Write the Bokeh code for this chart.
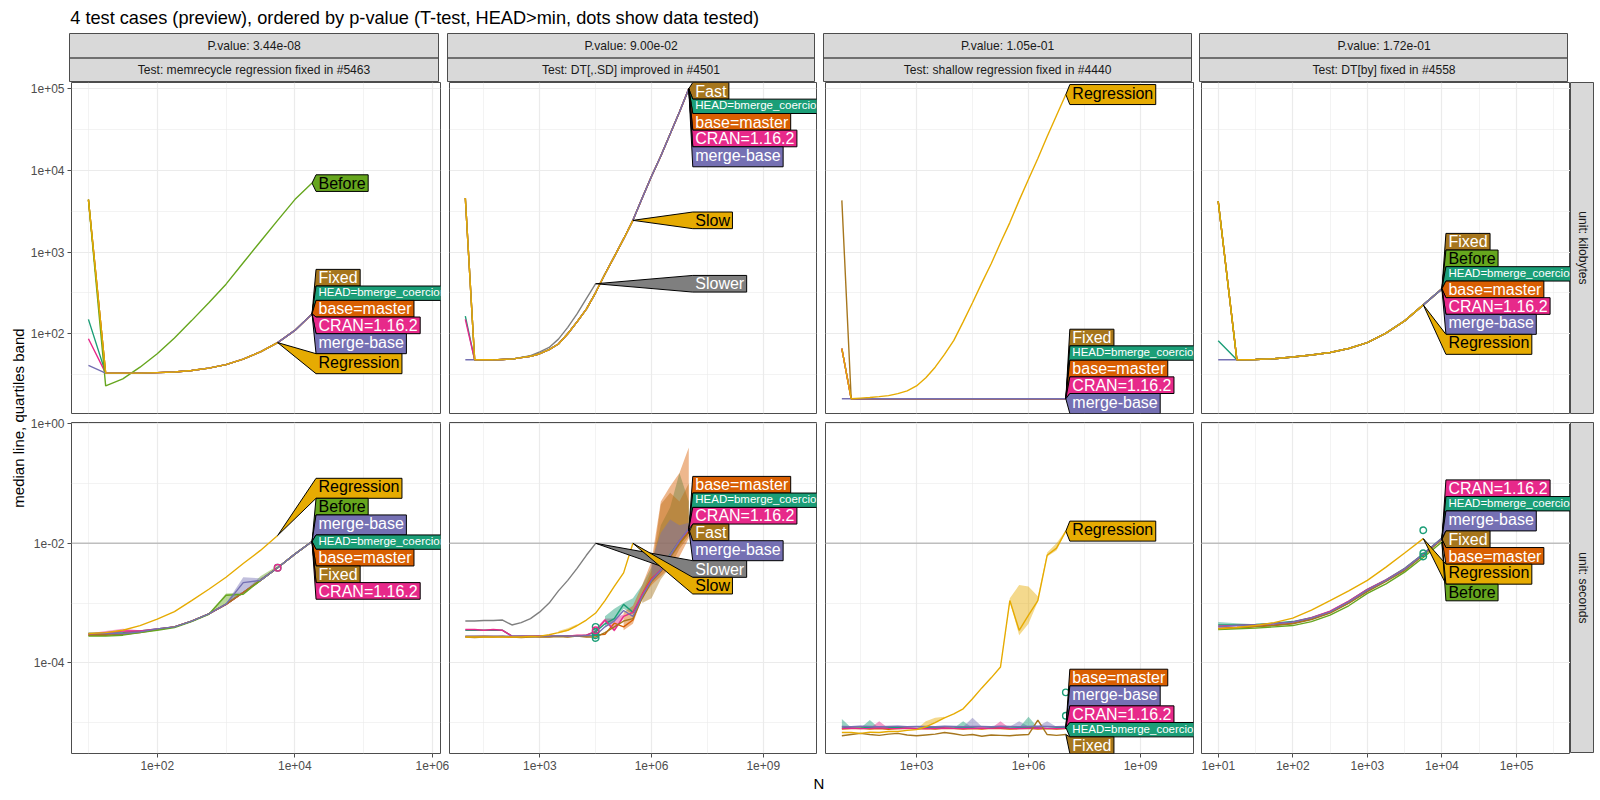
import math
from bokeh.plotting import figure
from bokeh.layouts import column, row
from bokeh.models import FixedTicker, CustomJSTickFormatter, Range1d, Grid, Span
from bokeh.core.properties import value
from bokeh.embed import file_html
from bokeh.resources import INLINE

FONT = "Liberation Sans"

# ----------------------------------------------------------------- texts
TITLE = "4 test cases (preview), ordered by p-value (T-test, HEAD>min, dots show data tested)"
P_VALUES = ["3.44e-08", "9.00e-02", "1.05e-01", "1.72e-01"]
TESTS = ["memrecycle regression fixed in #5463", "DT[,.SD] improved in #4501",
         "shallow regression fixed in #4440", "DT[by] fixed in #4558"]
UNITS = ["kilobytes", "seconds"]
Y_LABEL = "median line, quartiles band"
X_LABEL = "N"

COLORS = {"HEAD=bmerge_coercion": "#1B9E77", "base=master": "#D95F02", "merge-base": "#7570B3",
          "CRAN=1.16.2": "#E7298A", "Before": "#66A61E", "Regression": "#E6AB02", "Slow": "#E6AB02",
          "Fixed": "#A6761D", "Fast": "#A6761D", "Slower": "#7F7F7F"}
DARK_TEXT = ["Before", "Regression", "Slow"]
DRAW_ORDER = ["HEAD=bmerge_coercion", "base=master", "CRAN=1.16.2", "Fixed", "Fast", "Before",
              "merge-base", "Slower", "Slow", "Regression"]

# ----------------------------------------------------------------- data
N_MEMRECYCLE = [10, 17.8, 31.6, 56.2, 100, 178, 316, 562, 1000, 1778, 3162, 5623, 10000, 17783]
N_SD = [10, 17.8, 31.6, 56.2, 100, 178, 316, 562, 1000, 1778, 3162, 5623, 10000, 17783, 31623,
        56234, 100000, 177828, 316228, 562341, 1000000, 1778279, 3162278, 5623413, 10000000]
N_SHALLOW = [10, 17.8, 31.6, 56.2, 100, 178, 316, 562, 1000, 1778, 3162, 5623, 10000, 17783, 31623,
             56234, 100000, 177828, 316228, 562341, 1000000, 1778279, 3162278, 5623413, 10000000]
N_BY = [10, 17.8, 31.6, 56.2, 100, 178, 316, 562, 1000, 1778, 3162, 5623, 10000]

# --- memrecycle
KB_MEMRECYCLE = {
    "Fixed":                [4400, 33, 33, 33, 33.5, 34, 35.5, 38, 42, 49, 60, 78, 110, 175],
    "HEAD=bmerge_coercion": [150, 33, 33, 33, 33.5, 34, 35.5, 38, 42, 49, 60, 78, 110, 175],
    "base=master":          [4400, 33, 33, 33, 33.5, 34, 35.5, 38, 42, 49, 60, 78, 110, 175],
    "CRAN=1.16.2":          [87, 33, 33, 33, 33.5, 34, 35.5, 38, 42, 49, 60, 78, 110, 175],
    "merge-base":           [41, 33, 33, 33, 33.5, 34, 35.5, 38, 42, 49, 60, 78, 110, 175],
    "Before":               [4400, 23, 28, 39, 57, 89, 145, 240, 405, 740, 1350, 2450, 4400, 7000],
    "Regression":           [4400, 33, 33, 33, 33.5, 34, 35.5, 38, 42, 49, 60, 78],
}
SEC_MEMRECYCLE = {
    "Fixed":                [2.9e-4, 2.9e-4, 3.0e-4, 3.2e-4, 3.6e-4, 4.0e-4, 5.0e-4, 6.6e-4, 9.5e-4, 1.5e-3, 2.4e-3, 3.9e-3, 6.6e-3, 1.07e-2],
    "HEAD=bmerge_coercion": [3.1e-4, 3.1e-4, 3.2e-4, 3.4e-4, 3.7e-4, 4.0e-4, 5.0e-4, 6.6e-4, 9.6e-4, 1.5e-3, 2.4e-3, 3.9e-3, 6.6e-3, 1.07e-2],
    "base=master":          [2.9e-4, 3.0e-4, 3.1e-4, 3.3e-4, 3.6e-4, 4.0e-4, 5.0e-4, 6.6e-4, 9.5e-4, 1.5e-3, 2.4e-3, 3.9e-3, 6.6e-3, 1.07e-2],
    "CRAN=1.16.2":          [3.0e-4, 3.2e-4, 3.4e-4, 3.4e-4, 3.7e-4, 4.0e-4, 5.0e-4, 6.6e-4, 9.5e-4, 1.5e-3, 2.4e-3, 3.9e-3, 6.6e-3, 1.07e-2],
    "merge-base":           [3.1e-4, 3.1e-4, 3.1e-4, 3.3e-4, 3.7e-4, 4.0e-4, 5.0e-4, 6.6e-4, 9.6e-4, 2.2e-3, 2.4e-3, 3.9e-3, 6.6e-3, 1.07e-2],
    "Before":               [2.8e-4, 2.8e-4, 2.9e-4, 3.2e-4, 3.5e-4, 3.9e-4, 4.9e-4, 6.5e-4, 1.35e-3, 1.4e-3, 2.4e-3, 3.9e-3, 6.6e-3, 1.07e-2],
    "Regression":           [3.1e-4, 3.2e-4, 3.5e-4, 4.2e-4, 5.4e-4, 7.2e-4, 1.1e-3, 1.7e-3, 2.7e-3, 4.6e-3, 7.6e-3, 1.35e-2],
}
BANDS_MEMRECYCLE = [  # (series, N, lower quartile, upper quartile)
    ("Before", [562, 1000, 1778, 3162, 5623], [6.5e-4, 9.5e-4, 1.45e-3, 2.4e-3, 3.9e-3], [6.7e-4, 1.45e-3, 1.5e-3, 2.8e-3, 4.2e-3]),
    ("merge-base", [1000, 1778, 3162, 5623], [9.6e-4, 1.5e-3, 2.4e-3, 3.9e-3], [9.8e-4, 2.7e-3, 2.6e-3, 4.0e-3]),
    ("CRAN=1.16.2", [10, 17.8, 31.6, 56.2], [3.0e-4, 3.1e-4, 3.2e-4, 3.3e-4], [3.1e-4, 3.4e-4, 3.7e-4, 3.5e-4]),
]
DOTS_MEMRECYCLE = [("HEAD=bmerge_coercion", [5623], [3.9e-3]), ("CRAN=1.16.2", [5623], [3.9e-3])]
ORDER_KB_MEMRECYCLE = ["Before", "Fixed", "HEAD=bmerge_coercion", "base=master", "CRAN=1.16.2", "merge-base", "Regression"]
ORDER_SEC_MEMRECYCLE = ["Regression", "Before", "merge-base", "HEAD=bmerge_coercion", "base=master", "Fixed", "CRAN=1.16.2"]

# --- DT[,.SD]
KB_SD = {
    "Fast":                 [4600, 48, 48, 48, 48.5, 49, 51, 53, 57, 64, 75, 100, 140, 200, 320, 540, 880, 1450, 2450, 4600, 8500, 15000, 28000, 52000, 100000],
    "HEAD=bmerge_coercion": [165, 48, 48, 48, 48.5, 49, 51, 53, 57, 64, 75, 100, 140, 200, 320, 540, 880, 1450, 2450, 4600, 8500, 15000, 28000, 52000, 100000],
    "base=master":          [4600, 48, 48, 48, 48.5, 49, 51, 53, 57, 64, 75, 100, 140, 200, 320, 540, 880, 1450, 2450, 4600, 8500, 15000, 28000, 52000, 100000],
    "CRAN=1.16.2":          [150, 48, 48, 48, 48.5, 49, 51, 53, 57, 64, 75, 100, 140, 200, 320, 540, 880, 1450, 2450, 4600, 8500, 15000, 28000, 52000, 100000],
    "merge-base":           [48, 48, 48, 48, 48.5, 49, 51, 53, 57, 64, 75, 100, 140, 200, 320, 540, 880, 1450, 2450, 4600, 8500, 15000, 28000, 52000, 100000],
    "Slow":                 [4600, 48, 48, 48, 48.5, 49, 51, 53, 57, 64, 75, 100, 140, 200, 320, 540, 880, 1450, 2450],
    "Slower":               [4600, 48, 48, 48, 48.5, 49, 51.5, 54, 60, 68, 86, 120, 175, 270, 410],
}
SEC_SD = {
    "Fast":                 [2.7e-4, 2.65e-4, 2.7e-4, 2.7e-4, 2.75e-4, 2.7e-4, 2.65e-4, 2.7e-4, 2.7e-4, 2.7e-4, 2.75e-4, 2.7e-4, 2.8e-4, 2.7e-4, 2.7e-4, 3.2e-4, 4.0e-4, 5.0e-4, 5.5e-4, 1.2e-3, 2.3e-3, 3.4e-3, 6.0e-3, 1.0e-2, 1.5e-2],
    "HEAD=bmerge_coercion": [3.5e-4, 3.5e-4, 3.5e-4, 3.5e-4, 3.5e-4, 2.8e-4, 2.8e-4, 2.75e-4, 2.8e-4, 2.8e-4, 2.8e-4, 2.85e-4, 2.8e-4, 2.9e-4, 3.3e-4, 4.5e-4, 5.5e-4, 9.5e-4, 7.0e-4, 1.3e-3, 2.4e-3, 3.6e-3, 6.5e-3, 1.1e-2, 1.7e-2],
    "base=master":          [2.75e-4, 2.75e-4, 2.8e-4, 2.75e-4, 2.75e-4, 2.7e-4, 2.75e-4, 2.8e-4, 2.75e-4, 2.75e-4, 2.8e-4, 2.75e-4, 2.8e-4, 2.8e-4, 2.9e-4, 3.0e-4, 4.6e-4, 4.0e-4, 5.2e-4, 1.4e-3, 2.6e-3, 3.4e-3, 6.0e-3, 1.0e-2, 1.6e-2],
    "CRAN=1.16.2":          [3.6e-4, 3.6e-4, 3.5e-4, 3.6e-4, 3.5e-4, 2.8e-4, 2.8e-4, 2.8e-4, 2.85e-4, 2.8e-4, 2.8e-4, 2.8e-4, 2.9e-4, 2.9e-4, 3.4e-4, 5.2e-4, 3.5e-4, 6.0e-4, 7.0e-4, 1.4e-3, 2.5e-3, 3.6e-3, 6.3e-3, 1.1e-2, 1.7e-2],
    "merge-base":           [2.8e-4, 2.8e-4, 2.8e-4, 2.8e-4, 2.8e-4, 2.8e-4, 2.8e-4, 2.8e-4, 2.8e-4, 2.8e-4, 2.85e-4, 2.8e-4, 2.8e-4, 2.85e-4, 2.9e-4, 4.0e-4, 5.0e-4, 7.5e-4, 6.0e-4, 1.3e-3, 2.4e-3, 3.5e-3, 6.2e-3, 1.1e-2, 1.75e-2],
    "Slow":                 [2.7e-4, 2.7e-4, 2.7e-4, 2.7e-4, 2.7e-4, 2.7e-4, 2.7e-4, 2.75e-4, 2.8e-4, 2.95e-4, 3.2e-4, 3.5e-4, 4.2e-4, 5.2e-4, 6.8e-4, 1.1e-3, 1.9e-3, 3.2e-3, 1.0e-2],
    "Slower":               [5.0e-4, 5.0e-4, 5.1e-4, 5.1e-4, 5.2e-4, 4.3e-4, 4.7e-4, 5.5e-4, 7.1e-4, 1.0e-3, 1.6e-3, 2.4e-3, 3.8e-3, 6.3e-3, 1.0e-2],
}
BANDS_SD = [
    ("Slow", [3162, 5623, 10000], [3.1e-4, 3.4e-4, 4.0e-4], [3.4e-4, 3.8e-4, 4.4e-4]),
    ("CRAN=1.16.2", [31623, 56234, 100000, 177828], [3.2e-4, 4.8e-4, 3.3e-4, 5.5e-4], [3.8e-4, 5.5e-4, 5.5e-4, 6.5e-4]),
    ("HEAD=bmerge_coercion", [56234, 100000, 177828, 316228, 562341, 1000000, 1778279, 3162278, 5623413, 10000000],
     [4.0e-4, 5.0e-4, 8.0e-4, 6.5e-4, 1.2e-3, 2.2e-3, 3.2e-3, 5.5e-3, 9.0e-3, 1.5e-2],
     [6.0e-4, 8.0e-4, 1.0e-3, 1.2e-3, 2.0e-3, 4.0e-3, 2.0e-2, 4.0e-2, 0.15, 0.05]),
    ("Fast", [562341, 1000000, 1778279, 3162278, 5623413, 10000000],
     [1.0e-3, 1.2e-3, 2.5e-3, 4.0e-3, 8.0e-3, 1.3e-2], [1.5e-3, 3.5e-3, 4.5e-2, 7.0e-2, 5.0e-2, 0.1]),
    ("base=master", [177828, 316228, 562341, 1000000, 1778279, 3162278, 5623413, 10000000],
     [3.5e-4, 4.5e-4, 1.2e-3, 2.0e-3, 2.8e-3, 4.0e-3, 6.0e-3, 1.2e-2], [7.0e-4, 9.0e-4, 2.0e-3, 5.0e-3, 5.0e-2, 9.0e-2, 0.15, 0.4]),
    ("merge-base", [1000000, 1778279, 3162278, 5623413, 10000000],
     [2.2e-3, 3.2e-3, 5.5e-3, 9.5e-3, 1.6e-2], [5.0e-3, 1.5e-2, 2.5e-2, 2.0e-2, 2.2e-2]),
]
DOTS_SD = [("HEAD=bmerge_coercion", [31623, 31623, 31623, 31623], [2.6e-4, 2.9e-4, 3.3e-4, 4.0e-4]),
           ("CRAN=1.16.2", [31623], [3.5e-4])]
ORDER_KB_SD = ["Fast", "HEAD=bmerge_coercion", "base=master", "CRAN=1.16.2", "merge-base", "Slow", "Slower"]
ORDER_SEC_SD = ["base=master", "HEAD=bmerge_coercion", "CRAN=1.16.2", "Fast", "merge-base", "Slower", "Slow"]

# --- shallow
KB_SHALLOW = {
    "Fixed":                [4300, 16, 16, 16, 16, 16, 16, 16, 16, 16, 16, 16, 16, 16, 16, 16, 16, 16, 16, 16, 16, 16, 16, 16, 16],
    "HEAD=bmerge_coercion": [66, 16, 16, 16, 16, 16, 16, 16, 16, 16, 16, 16, 16, 16, 16, 16, 16, 16, 16, 16, 16, 16, 16, 16, 16],
    "base=master":          [66, 16, 16, 16, 16, 16, 16, 16, 16, 16, 16, 16, 16, 16, 16, 16, 16, 16, 16, 16, 16, 16, 16, 16, 16],
    "CRAN=1.16.2":          [66, 16, 16, 16, 16, 16, 16, 16, 16, 16, 16, 16, 16, 16, 16, 16, 16, 16, 16, 16, 16, 16, 16, 16, 16],
    "merge-base":           [16, 16, 16, 16, 16, 16, 16, 16, 16, 16, 16, 16, 16, 16, 16, 16, 16, 16, 16, 16, 16, 16, 16, 16, 16],
    "Regression":           [66, 16, 16.3, 16.6, 17, 17.5, 18.5, 20, 23, 29, 39, 56, 83, 140, 240, 420, 720, 1300, 2300, 4300, 7800, 14000, 26000, 47000, 85000],
}
SEC_SHALLOW = {
    "Fixed":                [6.0e-6, 6.3e-6, 6.6e-6, 6.3e-6, 6.1e-6, 6.4e-6, 6.6e-6, 6.2e-6, 6.0e-6, 6.2e-6, 6.4e-6, 6.8e-6, 6.5e-6, 6.1e-6, 6.3e-6, 5.9e-6, 6.2e-6, 6.1e-6, 6.0e-6, 6.2e-6, 6.3e-6, 1.1e-5, 6.3e-6, 6.1e-6, 6.3e-6],
    "HEAD=bmerge_coercion": [8.4e-6, 8.2e-6, 8.1e-6, 8.3e-6, 8.0e-6, 8.2e-6, 8.3e-6, 8.1e-6, 8.0e-6, 8.2e-6, 8.4e-6, 8.2e-6, 8.1e-6, 8.3e-6, 8.2e-6, 8.0e-6, 8.2e-6, 8.3e-6, 8.1e-6, 8.2e-6, 8.4e-6, 8.2e-6, 8.0e-6, 8.2e-6, 8.3e-6],
    "base=master":          [7.8e-6, 7.9e-6, 8.0e-6, 7.8e-6, 7.9e-6, 7.7e-6, 7.9e-6, 8.0e-6, 7.8e-6, 7.9e-6, 7.8e-6, 8.0e-6, 7.9e-6, 7.8e-6, 7.9e-6, 7.8e-6, 8.0e-6, 7.9e-6, 7.8e-6, 7.9e-6, 8.0e-6, 7.8e-6, 7.9e-6, 7.8e-6, 7.9e-6],
    "CRAN=1.16.2":          [8.0e-6, 8.1e-6, 7.9e-6, 8.0e-6, 8.2e-6, 8.0e-6, 7.9e-6, 8.1e-6, 8.0e-6, 7.9e-6, 8.0e-6, 8.1e-6, 8.0e-6, 7.9e-6, 8.0e-6, 8.1e-6, 8.0e-6, 8.2e-6, 8.0e-6, 7.9e-6, 8.0e-6, 8.1e-6, 8.0e-6, 7.9e-6, 8.0e-6],
    "merge-base":           [8.6e-6, 8.5e-6, 8.7e-6, 8.6e-6, 8.5e-6, 8.6e-6, 8.7e-6, 8.5e-6, 8.6e-6, 8.6e-6, 8.5e-6, 8.7e-6, 8.6e-6, 8.5e-6, 8.6e-6, 8.6e-6, 8.5e-6, 8.7e-6, 8.6e-6, 8.5e-6, 8.6e-6, 8.7e-6, 8.6e-6, 8.5e-6, 8.6e-6],
    "Regression":           [6.8e-6, 6.8e-6, 6.6e-6, 6.9e-6, 6.8e-6, 7.1e-6, 7.1e-6, 7.4e-6, 7.6e-6, 8.5e-6, 1.0e-5, 1.2e-5, 1.4e-5, 1.7e-5, 2.5e-5, 3.8e-5, 5.6e-5, 8.5e-5, 1.1e-3, 3.5e-4, 6.3e-4, 1.1e-3, 6.3e-3, 8.3e-3, 1.6e-2],
}
BANDS_SHALLOW = [
    ("Regression", [1000, 1778, 3162, 5623], [7.6e-6, 8.5e-6, 1.0e-5, 1.2e-5], [7.8e-6, 1.05e-5, 1.2e-5, 1.25e-5]),
    ("Regression", [177828, 316228, 562341, 1000000, 1778279, 3162278, 5623413, 10000000],
     [8.5e-5, 1.05e-3, 2.9e-4, 4.5e-4, 1.05e-3, 6.0e-3, 7.6e-3, 1.55e-2],
     [8.7e-5, 1.2e-3, 2.0e-3, 1.9e-3, 1.3e-3, 7.0e-3, 1.0e-2, 1.65e-2]),
]
SPIKES_SHALLOW = [  # (series, N, upper quartile) isolated noisy points
    ("HEAD=bmerge_coercion", 10, 1.15e-5), ("HEAD=bmerge_coercion", 56.2, 1.1e-5), ("CRAN=1.16.2", 100, 1.05e-5),
    ("HEAD=bmerge_coercion", 17783, 1.05e-5), ("merge-base", 31623, 1.2e-5), ("CRAN=1.16.2", 177828, 1.05e-5),
    ("merge-base", 562341, 1.05e-5), ("HEAD=bmerge_coercion", 1000000, 1.25e-5), ("merge-base", 3162278, 1.05e-5),
]
DOTS_SHALLOW = [("HEAD=bmerge_coercion", [10000000, 10000000], [3.2e-5, 1.3e-5])]
ORDER_KB_SHALLOW = ["Regression", "Fixed", "HEAD=bmerge_coercion", "base=master", "CRAN=1.16.2", "merge-base"]
ORDER_SEC_SHALLOW = ["Regression", "base=master", "merge-base", "CRAN=1.16.2", "HEAD=bmerge_coercion", "Fixed"]

# --- DT[by]
KB_BY = {
    "Fixed":                [4200, 48, 48.5, 49.5, 52, 55, 59, 66, 78, 102, 144, 226, 355],
    "Before":               [4200, 48, 48.5, 49.5, 52, 55, 59, 66, 78, 102, 144, 226, 355],
    "HEAD=bmerge_coercion": [82, 48, 48.5, 49.5, 52, 55, 59, 66, 78, 102, 144, 226, 355],
    "base=master":          [4200, 48, 48.5, 49.5, 52, 55, 59, 66, 78, 102, 144, 226, 355],
    "CRAN=1.16.2":          [4200, 48, 48.5, 49.5, 52, 55, 59, 66, 78, 102, 144, 226, 355],
    "merge-base":           [48, 48, 48.5, 49.5, 52, 55, 59, 66, 78, 102, 144, 226, 355],
    "Regression":           [4200, 48, 48.5, 49.5, 52, 55, 59, 66, 78, 102, 144, 226],
}
SEC_BY = {
    "merge-base":           [4.0e-4, 4.2e-4, 4.3e-4, 4.5e-4, 4.8e-4, 5.6e-4, 7.1e-4, 1.05e-3, 1.65e-3, 2.4e-3, 3.7e-3, 6.6e-3, 1.2e-2],
    "HEAD=bmerge_coercion": [4.3e-4, 4.3e-4, 4.4e-4, 4.6e-4, 4.9e-4, 5.7e-4, 7.2e-4, 1.07e-3, 1.7e-3, 2.45e-3, 3.8e-3, 6.7e-3, 1.22e-2],
    "CRAN=1.16.2":          [4.1e-4, 4.2e-4, 4.3e-4, 4.5e-4, 4.8e-4, 5.7e-4, 7.3e-4, 1.08e-3, 1.7e-3, 2.45e-3, 3.75e-3, 6.6e-3, 1.2e-2],
    "base=master":          [3.8e-4, 3.9e-4, 4.1e-4, 4.3e-4, 4.6e-4, 5.4e-4, 6.9e-4, 1.0e-3, 1.6e-3, 2.35e-3, 3.6e-3, 6.4e-3, 1.18e-2],
    "Fixed":                [3.7e-4, 3.8e-4, 4.0e-4, 4.2e-4, 4.5e-4, 5.3e-4, 6.8e-4, 1.0e-3, 1.55e-3, 2.3e-3, 3.5e-3, 6.3e-3, 1.15e-2],
    "Before":               [3.6e-4, 3.7e-4, 3.8e-4, 4.0e-4, 4.2e-4, 4.9e-4, 6.3e-4, 9.0e-4, 1.45e-3, 2.1e-3, 3.3e-3, 5.8e-3, 1.05e-2],
    "Regression":           [3.7e-4, 3.9e-4, 4.2e-4, 4.7e-4, 5.6e-4, 7.6e-4, 1.1e-3, 1.6e-3, 2.4e-3, 4.0e-3, 6.9e-3, 1.2e-2],
}
BANDS_BY = [("HEAD=bmerge_coercion", [10, 17.8, 31.6], [4.3e-4, 4.3e-4, 4.4e-4], [4.8e-4, 4.6e-4, 4.4e-4])]
DOTS_BY = [("HEAD=bmerge_coercion", [5623, 5623, 5623], [1.65e-2, 6.8e-3, 6.0e-3])]
ORDER_KB_BY = ["Fixed", "Before", "HEAD=bmerge_coercion", "base=master", "CRAN=1.16.2", "merge-base", "Regression"]
ORDER_SEC_BY = ["CRAN=1.16.2", "HEAD=bmerge_coercion", "merge-base", "Fixed", "base=master", "Regression", "Before"]

COLS = [
    dict(N=N_MEMRECYCLE, kb=KB_MEMRECYCLE, sec=SEC_MEMRECYCLE, bands=BANDS_MEMRECYCLE, spikes=[],
         dots=DOTS_MEMRECYCLE, order=(ORDER_KB_MEMRECYCLE, ORDER_SEC_MEMRECYCLE)),
    dict(N=N_SD, kb=KB_SD, sec=SEC_SD, bands=BANDS_SD, spikes=[], dots=DOTS_SD, order=(ORDER_KB_SD, ORDER_SEC_SD)),
    dict(N=N_SHALLOW, kb=KB_SHALLOW, sec=SEC_SHALLOW, bands=BANDS_SHALLOW, spikes=SPIKES_SHALLOW,
         dots=DOTS_SHALLOW, order=(ORDER_KB_SHALLOW, ORDER_SEC_SHALLOW)),
    dict(N=N_BY, kb=KB_BY, sec=SEC_BY, bands=BANDS_BY, spikes=[], dots=DOTS_BY, order=(ORDER_KB_BY, ORDER_SEC_BY)),
]

# ----------------------------------------------------------------- scales / layout
XLIM = [(0.754, 6.117), (0.575, 10.43), (0.562, 10.42), (0.776, 5.724)]   # log10 limits
YLIM = [(1.024, 5.077), (-5.518, 0.022)]
XMAJ = [[1e2, 1e4, 1e6], [1e3, 1e6, 1e9], [1e3, 1e6, 1e9], [1e1, 1e2, 1e3, 1e4, 1e5]]
XMIN = [[1e1, 1e3, 1e5], [10**1.5, 10**4.5, 10**7.5], [10**1.5, 10**4.5, 10**7.5],
        [10**1.5, 10**2.5, 10**3.5, 10**4.5, 10**5.5]]
YMAJ = [[1e2, 1e3, 1e4, 1e5], [1e-4, 1e-2, 1e0]]
YMIN = [[10**1.5, 10**2.5, 10**3.5, 10**4.5], [1e-5, 1e-3, 1e-1]]
FRAME_W = [369, 367, 368, 369]
FRAME_H = 331
GAP_L = [42, 0, 0, 0]
GAP_R = [9, 9, 8, 0]
GAP_TOP_ROW_BELOW = 2
GAP_BOTTOM_ROW_ABOVE = 7
STRIP_H = 49
SIDE_W = 24
YLAB_W = 27
TITLE_H = 33
AXIS_H = 21
XLAB_H = 19
BORDER = "#4D4D4D"
TITLE_FS = 18.2
TICK_FS = "12px"
STRIP_FS = "12.1px"
AXIS_TITLE_FS = "15px"

HELV = {' ': 278, '-': 333, '.': 278, '=': 584, '_': 556, 'A': 667, 'B': 667, 'C': 722, 'D': 722,
        'E': 667, 'F': 611, 'H': 722, 'N': 722, 'R': 722, 'S': 667, 'T': 611, 'a': 556, 'b': 556, 'c': 500,
        'd': 556, 'e': 556, 'f': 278, 'g': 556, 'h': 556, 'i': 222, 'l': 222, 'm': 833, 'n': 556,
        'o': 556, 'p': 556, 'r': 333, 's': 500, 't': 278, 'u': 556, 'w': 722, 'x': 500, 'v': 500, 'y': 500,
        '(': 333, ')': 333, ',': 278, '>': 584, '4': 556}

TICK_JS = """
var s = tick.toExponential(0);
var parts = s.split('e');
var e = parseInt(parts[1]);
var a = Math.abs(e);
return parts[0] + 'e' + (e < 0 ? '-' : '+') + (a < 10 ? '0' + a : '' + a);
"""


def text_width(s, fs):
    return sum(HELV.get(c, 556) for c in s) * fs / 1000.0


def label_metrics(s):
    fs = 11.5 if s.startswith("HEAD") else 16.0
    w = text_width(s, fs)
    desc = 0.21 * fs if any(c in "gjpqy_," for c in s) else 0.0
    pad_y = 0.16 * fs
    h = 0.72 * fs + desc + 2 * pad_y
    return fs, w, h, desc, pad_y


def stack(desired, heights, fh):
    """least-squares placement of ordered, non overlapping boxes (pool adjacent violators)"""
    H = [0.0]
    for h in heights:
        H.append(H[-1] + h)
    t = [desired[i] - heights[i] / 2 - H[i] for i in range(len(desired))]
    blocks = []
    for v in t:
        blocks.append([v, 1])
        while len(blocks) > 1 and blocks[-2][0] / blocks[-2][1] > blocks[-1][0] / blocks[-1][1]:
            s, c = blocks.pop()
            blocks[-1][0] += s
            blocks[-1][1] += c
    u = []
    for s, c in blocks:
        u += [s / c] * c
    u = [min(max(x, 0.0), fh - H[-1]) for x in u]
    return [u[i] + H[i] for i in range(len(u))]


def blank(w, h):
    p = figure(x_range=Range1d(0, w), y_range=Range1d(0, h), frame_width=w, frame_height=h,
               x_axis_location=None, y_axis_location=None, toolbar_location=None,
               output_backend="svg", title=None, min_border_left=0, min_border_right=0,
               min_border_top=0, min_border_bottom=0, outline_line_color=None)
    p.grid.visible = False
    return p


def make_panel(ci, ri):
    d = COLS[ci]
    xlo, xhi = XLIM[ci]
    ylo, yhi = YLIM[ri]
    fw, fh = FRAME_W[ci], FRAME_H
    pxx = fw / (xhi - xlo)
    pxy = fh / (yhi - ylo)
    p = figure(x_axis_type="log", y_axis_type="log",
               x_range=Range1d(10 ** xlo, 10 ** xhi), y_range=Range1d(10 ** ylo, 10 ** yhi),
               frame_width=fw, frame_height=fh,
               x_axis_location="below" if ri == 1 else None,
               y_axis_location="left" if ci == 0 else None,
               toolbar_location=None, output_backend="svg", title=None,
               min_border_left=GAP_L[ci], min_border_right=GAP_R[ci],
               min_border_top=GAP_BOTTOM_ROW_ABOVE if ri == 1 else 0,
               min_border_bottom=GAP_TOP_ROW_BELOW if ri == 0 else 0)
    p.outline_line_color = BORDER
    p.outline_line_width = 1
    p.center = [c for c in p.center if not isinstance(c, Grid)]
    p.add_layout(Grid(dimension=0, ticker=FixedTicker(ticks=XMAJ[ci], minor_ticks=XMIN[ci]),
                      grid_line_color="#EBEBEB", grid_line_width=1.2,
                      minor_grid_line_color="#EBEBEB", minor_grid_line_width=0.6))
    p.add_layout(Grid(dimension=1, ticker=FixedTicker(ticks=YMAJ[ri], minor_ticks=YMIN[ri]),
                      grid_line_color="#EBEBEB", grid_line_width=1.2,
                      minor_grid_line_color="#EBEBEB", minor_grid_line_width=0.6))
    for ax in list(p.xaxis) + list(p.yaxis):
        ax.formatter = CustomJSTickFormatter(code=TICK_JS)
        ax.axis_line_color = None
        ax.major_tick_line_color = BORDER
        ax.major_tick_out = 4
        ax.major_tick_in = 0
        ax.minor_tick_line_color = None
        ax.major_label_standoff = 3
        ax.major_label_text_font = FONT
        ax.major_label_text_font_size = TICK_FS
        ax.major_label_text_color = "#4D4D4D"
    for ax in p.xaxis:
        ax.ticker = FixedTicker(ticks=XMAJ[ci])
    for ax in p.yaxis:
        ax.ticker = FixedTicker(ticks=YMAJ[ri])

    N = d["N"]
    med = d["kb"] if ri == 0 else d["sec"]
    if ri == 1:
        p.add_layout(Span(location=1e-2, dimension="width", line_color="#BEBEBE", line_width=1.6,
                          level="underlay"))
        for s, ns, lo, hi in d["bands"]:
            p.varea(x=ns, y1=lo, y2=hi, fill_color=COLORS[s], fill_alpha=0.45)
        for s, n, hi in d["spikes"]:
            i = N.index(n)
            a, b = max(i - 1, 0), min(i + 2, len(med[s]))
            m = med[s][a:b]
            up = [hi if k == i else med[s][k] for k in range(a, b)]
            p.varea(x=N[a:b], y1=m, y2=up, fill_color=COLORS[s], fill_alpha=0.45)
    for s in DRAW_ORDER:
        if s in med:
            vals = med[s]
            p.line(N[:len(vals)], vals, line_color=COLORS[s], line_width=1.4)
    if ri == 1:
        for s, ns, vs in d["dots"]:
            p.scatter(ns, vs, marker="circle", size=6.5, fill_color=None, line_color=COLORS[s],
                      line_width=1.4)

    # direct labels (polygon boxes pointing to the last point of each line)
    def px2x(v):
        return 10 ** (xlo + v / pxx)

    def px2y(v):
        return 10 ** (yhi - v / pxy)

    order = d["order"][ri]
    tips = []
    for s in order:
        vals = med[s]
        n = N[len(vals) - 1]
        tips.append(((math.log10(n) - xlo) * pxx, (yhi - math.log10(vals[-1])) * pxy))
    mets = [label_metrics(s) for s in order]
    tops = stack([t[1] for t in tips], [m[2] for m in mets], fh)
    L = max(t[0] for t in tips) + 4
    padx = 2.5
    for s, (tx, ty), (fs, w, h, desc, pad_y), top in zip(order, tips, mets, tops):
        R = L + w + 2 * padx
        bot = top + h
        xs = [px2x(v) for v in (tx, L, R, R, L)]
        ys = [px2y(v) for v in (ty, top, top, bot, bot)]
        p.patch(xs, ys, fill_color=COLORS[s], line_color="black", line_width=1)
        baseline = bot - pad_y - desc
        p.text(x=[px2x(L + padx)], y=[px2y(baseline - 0.3465 * fs)], text=[s],
               text_font=value(FONT), text_font_size=value(f"{fs}px"),
               text_color="black" if s in DARK_TEXT else "white",
               text_align="left", text_baseline="middle")
    return p


def make_strip(ci):
    p = figure(x_range=Range1d(0, 1), y_range=Range1d(0, 2), frame_width=FRAME_W[ci], frame_height=STRIP_H,
               x_axis_location=None, y_axis_location=None, toolbar_location=None, output_backend="svg",
               title=None, min_border_left=GAP_L[ci], min_border_right=GAP_R[ci], min_border_top=0,
               min_border_bottom=0)
    p.grid.visible = False
    p.background_fill_color = "#D9D9D9"
    p.outline_line_color = BORDER
    p.outline_line_width = 1
    p.add_layout(Span(location=1, dimension="width", line_color=BORDER, line_width=1.5))
    p.text(x=[0.5, 0.5], y=[1.5, 0.5], text=[f"P.value: {P_VALUES[ci]}", f"Test: {TESTS[ci]}"],
           text_align="center", text_baseline="middle", text_font=value(FONT),
           text_font_size=value(STRIP_FS), text_color="#1A1A1A")
    return p


def make_side(ri):
    p = figure(x_range=Range1d(0, 1), y_range=Range1d(0, 1), frame_width=SIDE_W, frame_height=FRAME_H,
               x_axis_location=None, y_axis_location=None, toolbar_location=None, output_backend="svg",
               title=None, min_border_left=0, min_border_right=0,
               min_border_top=GAP_BOTTOM_ROW_ABOVE if ri == 1 else 0,
               min_border_bottom=GAP_TOP_ROW_BELOW if ri == 0 else 0)
    p.grid.visible = False
    p.background_fill_color = "#D9D9D9"
    p.outline_line_color = BORDER
    p.text(x=[0.5], y=[0.5], text=[f"unit: {UNITS[ri]}"], angle=-math.pi / 2, text_align="center",
           text_baseline="middle", text_font=value(FONT), text_font_size=value(STRIP_FS),
           text_color="#1A1A1A")
    return p


strip_row = row(*[make_strip(ci) for ci in range(4)])
top_row = row(*[make_panel(ci, 0) for ci in range(4)], make_side(0))
bottom_row = row(*[make_panel(ci, 1) for ci in range(4)], make_side(1))
grid_col = column(strip_row, top_row, bottom_row)

TOTAL_W = YLAB_W + sum(GAP_L) + sum(FRAME_W) + sum(GAP_R) + SIDE_W
GRID_H = STRIP_H + 2 * FRAME_H + GAP_TOP_ROW_BELOW + GAP_BOTTOM_ROW_ABOVE + AXIS_H
PANELS_LEFT = YLAB_W + GAP_L[0]
PANELS_W = sum(FRAME_W) + sum(GAP_R) - GAP_R[3]

title_fig = blank(TOTAL_W, TITLE_H)
title_w = text_width(TITLE, TITLE_FS)
title_fig.text(x=[PANELS_LEFT + title_w / 2], y=[TITLE_H - 17], text=[TITLE], text_font=value(FONT),
               text_font_size=value(f"{TITLE_FS}px"), text_baseline="middle", text_align="center",
               text_color="black")

ylab_fig = blank(YLAB_W, GRID_H)
ylab_center_from_top = STRIP_H + FRAME_H + (GAP_TOP_ROW_BELOW + GAP_BOTTOM_ROW_ABOVE) / 2
ylab_fig.text(x=[18], y=[GRID_H - ylab_center_from_top], text=[Y_LABEL], angle=math.pi / 2,
              text_font=value(FONT), text_font_size=value(AXIS_TITLE_FS), text_baseline="middle",
              text_align="center", text_color="black")

n_fig = blank(TOTAL_W, XLAB_H)
n_fig.text(x=[PANELS_LEFT + PANELS_W / 2], y=[XLAB_H - 8.5], text=[X_LABEL],
           text_font=value(FONT), text_font_size=value(AXIS_TITLE_FS), text_baseline="middle",
           text_align="center", text_color="black")

layout = column(title_fig, row(ylab_fig, grid_col), n_fig)
open("out.html", "w").write(file_html(layout, INLINE))
